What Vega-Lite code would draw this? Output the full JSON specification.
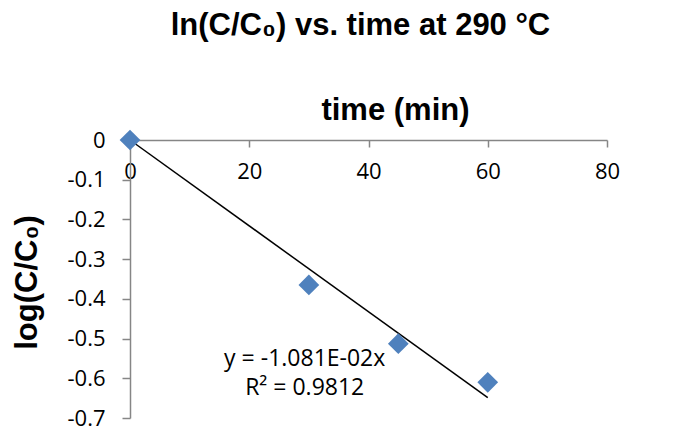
{
  "$schema": "https://vega.github.io/schema/vega-lite/v6.json",
  "width": 477,
  "height": 278,
  "autosize": {"type": "none"},
  "padding": {"left": 130, "top": 140, "right": 81, "bottom": 11},
  "background": "white",
  "title": {
    "text": "ln(C/C₀) vs. time at 290 °C",
    "font": "Liberation Sans",
    "fontSize": 31,
    "fontWeight": "bold",
    "color": "black",
    "anchor": "middle",
    "dx": -8,
    "offset": 52
  },
  "config": {
    "view": {"stroke": null},
    "axis": {
      "grid": false,
      "domainColor": "#868686",
      "domainWidth": 1.5,
      "tickColor": "#868686",
      "tickWidth": 1.5,
      "labelFont": "Open Sans",
      "labelFontSize": 22,
      "labelColor": "black",
      "titleFont": "Liberation Sans",
      "titleFontSize": 31,
      "titleFontWeight": "bold",
      "titleColor": "black"
    }
  },
  "layer": [
    {
      "data": {"values": [
        {"time": 0, "fit": 0},
        {"time": 60, "fit": -0.6486}
      ]},
      "mark": {"type": "line", "color": "black", "strokeWidth": 1.5},
      "encoding": {
        "x": {
          "field": "time",
          "type": "quantitative",
          "scale": {"domain": [0, 80], "nice": false},
          "axis": {
            "orient": "bottom",
            "offset": -278,
            "values": [0, 20, 40, 60, 80],
            "tickCount": 20,
            "labelOverlap": false,
            "labelFlush": false,
            "tickSize": 7,
            "labelPadding": 14,
            "title": "time (min)",
            "titleX": 265,
            "titleY": -21,
            "titleBaseline": "alphabetic"
          }
        },
        "y": {
          "field": "fit",
          "type": "quantitative",
          "scale": {"domain": [-0.7, 0], "nice": false, "zero": false},
          "axis": {
            "orient": "left",
            "values": [0, -0.1, -0.2, -0.3, -0.4, -0.5, -0.6, -0.7],
            "tickCount": 20,
            "labelOverlap": false,
            "labelFlush": false,
            "labelExpr": "replace(format(datum.value, '.1~f'), '\u2212', '-')",
            "tickSize": 8,
            "labelPadding": 17,
            "title": "log(C/C₀)",
            "titleAngle": -90,
            "titleX": -103,
            "titleY": 142,
            "titleBaseline": "middle"
          }
        }
      }
    },
    {
      "data": {"values": [
        {"time": 0, "value": 0},
        {"time": 30, "value": -0.365},
        {"time": 45, "value": -0.513},
        {"time": 60, "value": -0.61}
      ]},
      "mark": {"type": "point", "shape": "diamond", "filled": true, "size": 430, "color": "#4F81BD", "opacity": 1},
      "encoding": {
        "x": {"field": "time", "type": "quantitative"},
        "y": {"field": "value", "type": "quantitative"}
      }
    },
    {
      "data": {"values": [
        {"time": 29.3, "value": -0.552, "label": "y = -1.081E-02x"},
        {"time": 29.3, "value": -0.625, "label": "R² = 0.9812"}
      ]},
      "mark": {"type": "text", "font": "Open Sans", "fontSize": 23, "color": "black", "align": "center", "baseline": "middle"},
      "encoding": {
        "x": {"field": "time", "type": "quantitative"},
        "y": {"field": "value", "type": "quantitative"},
        "text": {"field": "label"}
      }
    }
  ]
}
